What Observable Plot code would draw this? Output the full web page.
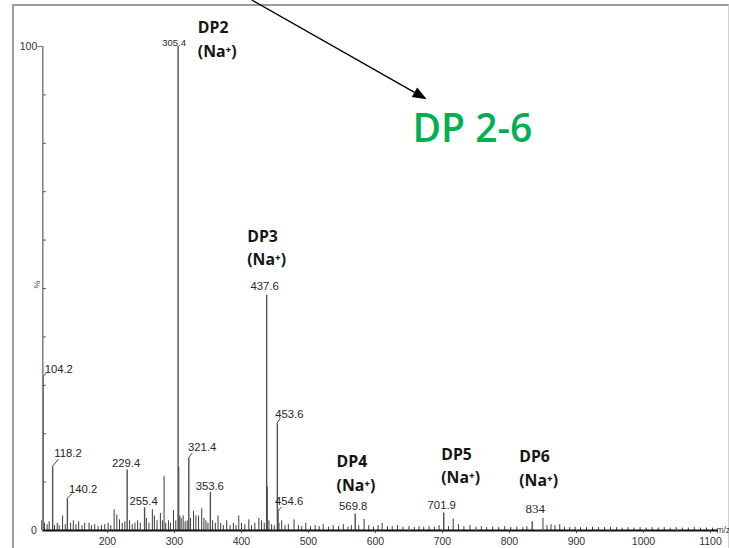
<!DOCTYPE html>
<html><head><meta charset="utf-8">
<script src="https://cdn.jsdelivr.net/npm/d3@7"></script>
<script src="https://cdn.jsdelivr.net/npm/@observablehq/plot@0.6"></script>
<style>
body{margin:0;background:#fff;}
#wrap{position:relative;width:729px;height:548px;overflow:hidden;background:#fff;}
#border{position:absolute;left:12px;top:4px;width:714px;height:560px;border-top:2px solid #9c9c9c;border-left:2px solid #9c9c9c;border-right:1px solid #d0d0d0;}
#wrap svg{position:absolute;left:0;top:0;}
</style></head><body><div id="wrap"><div id="border"></div></div>
<script>
// Labeled peaks (m/z, relative intensity %)
const labeledMz  = [104.2, 118.2, 140.2, 229.4, 255.4, 305.4, 321.4, 353.6, 437.6, 453.6, 454.6, 569.8, 701.9, 834];
const labeledInt = [31.6, 13.1, 6.5, 12.5, 4.7, 100, 14.8, 7.9, 48.6, 22, 3.8, 3.4, 3.6, 1.8];
const labeledText = ["104.2","118.2","140.2","229.4","255.4","305.4","321.4","353.6","437.6","453.6","454.6","569.8","701.9","834"];

// Unlabeled peaks [m/z, %]
const minorPeaks = [
 [102,2.0],[106,1.5],[110,1.2],[113,1.8],[121,1.0],[125,1.5],[128,1.0],[133,3.0],[137,1.2],[145,1.5],
 [149,2.0],[153,1.2],[157,1.8],[162,1.0],[166,1.5],[172.5,1.5],[176,1.0],[181,1.2],[186,0.8],[191,1.0],
 [196,1.2],[201,1.5],[205,1.0],[210,4.3],[214,3.2],[218,2.2],[222,1.5],[226,1.8],[233,2.0],[237,1.2],
 [241,1.5],[245,2.0],[249,1.5],[258,2.5],[262,1.5],[267,4.3],[270,3.0],[274,2.0],[279,3.5],[282,2.0],
 [284.5,11.2],[287,1.5],[291,2.0],[294,1.5],[298.5,4.1],[302,2.0],[306.5,13],[308,3.0],[310,2.5],[313,3.0],
 [316,1.8],[319,2.0],[324,2.5],[328.5,4.0],[332,3.0],[336,3.0],[340.7,4.5],[344,2.5],[347,2.0],[350,1.5],
 [357,2.0],[361,1.5],[365,3.0],[369,1.5],[373,1.0],[378,2.0],[383,1.0],[388,1.5],[392,1.0],[396,3.0],
 [400,1.5],[405,1.2],[411,2.2],[415,1.0],[420,1.5],[426,2.5],[430,2.0],[434,1.5],[438.6,9.0],[441,2.0],
 [445,1.2],[449,1.0],[456,1.5],[460,2.0],[465,1.0],[470,1.2],[478.5,2.2],[485,1.0],[490,0.8],[496,1.5],
 [503,0.8],[510,1.0],[516,0.8],[522,1.2],[530,0.7],[537,1.0],[545,0.8],[552,1.2],[559,0.7],[564,1.0],
 [575,1.0],[583,2.3],[590,1.0],[597,0.7],[604,1.0],[610,1.5],[618,0.8],[625,0.8],[633,1.0],[641,0.7],
 [650,0.8],[658,0.6],[665,0.8],[672,0.7],[680,0.8],[688,0.7],[695,1.0],[709,0.8],[716,2.4],[724,1.2],
 [732,0.8],[741,1.0],[750,0.7],[758,0.8],[766,0.6],[775,0.7],[784,0.6],[793,0.8],[802,0.6],[811,0.7],
 [820,0.6],[826,0.8],[850,2.5],[856,1.0],[862,1.2],[868,1.0],[875,1.2],[882,0.7],[890,0.6],[898,0.7],
 [906,0.6],[915,0.6],[924,0.7],[933,0.6],[942,0.6],[951,0.7],[960,0.6],[968,0.5],[977,0.6],[986,0.5],
 [995,0.6],[1004,0.5],[1013,0.6],[1022,0.5],[1031,0.6],[1040,0.5],[1049,0.6],[1058,0.5],[1067,0.5],[1076,0.6],
 [1085,0.5],[1094,0.5],[1103,0.5]
];

// Oligomer annotations
const dpNames  = ["DP2","DP3","DP4","DP5","DP6"];
const dpPeakMz = [305.4, 437.6, 569.8, 701.9, 834];

// Axis ticks
const xTicks = [200,300,400,500,600,700,800,900,1000,1100];
const xMinorTicks = [150,250,350,450,550,650,750,850,950,1050];
const yInnerTicks = [10,20,30,40,50,60,70,80,90];

// Arrow annotation (m/z, %)
const arrowStart = [416, 109.5];
const arrowEnd = [677.2, 89];
const bigLabel = "DP 2-6";

// ---------- layout (pixel offsets) ----------
const labelLayout = {
 "104.2": {dx: 15.5, dy: -5,   leader: [3.3, -4]},
 "118.2": {dx: 15.4, dy: -9.7, leader: [6.2, -7.4]},
 "140.2": {dx: 15.8, dy: -5.6, leader: [5.3, -4.8]},
 "229.4": {dx: -1,   dy: -3},
 "255.4": {dx: -1,   dy: -3},
 "305.4": {dx: -4,   dy: -1, size: 9.5},
 "321.4": {dx: 13.4, dy: -7.6, leader: [3.7, -5.3]},
 "353.6": {dx: -0.6, dy: -2.7},
 "437.6": {dx: -2,   dy: -5},
 "453.6": {dx: 12,   dy: -6,   leader: [3.1, -5]},
 "454.6": {dx: 11,   dy: -6.7, leader: [3.9, -4.7]},
 "569.8": {dx: -2,   dy: -4},
 "701.9": {dx: -2,   dy: -4},
 "834":   {dx: 3,    dy: -9, size: 13, serif: true}
};
const dpLayout = {
 "DP2": {dx: 19.8, dy: 10},
 "DP3": {dx: -19.4, dy: -30},
 "DP4": {dx: -18.7, dy: -23.5},
 "DP5": {dx: -2.5, dy: -29.6},
 "DP6": {dx: -13, dy: -36}
};

const labeledPeaks = labeledMz.map((mz, i) => ({mz, int: labeledInt[i], label: labeledText[i]}));
const minor = minorPeaks.map(([mz, int]) => ({mz, int}));
const dpData = dpNames.map((name, i) => {
  const p = labeledPeaks.find(d => d.mz === dpPeakMz[i]);
  return {name, mz: p.mz, int: p.int, text: name + "\n(Na\u207A)"};
});

const xDomain = [103.5, 1112];
const sans = "Liberation Sans, Arial, sans-serif";

const chart = Plot.plot({
  width: 729, height: 548,
  marginLeft: 42.3, marginRight: 11, marginTop: 46, marginBottom: 18,
  x: {domain: xDomain, label: null},
  y: {domain: [0, 100], label: null},
  style: {fontFamily: sans, background: "transparent", overflow: "visible"},
  marks: [
    Plot.ruleX(minor, {x: "mz", y1: 0, y2: "int", stroke: "#3c3c3c", strokeWidth: 1}),
    Plot.ruleX(labeledPeaks, {x: "mz", y1: 0, y2: "int", stroke: "#505050", strokeWidth: 1.4}),
    Plot.ruleY([0], {stroke: "#111", strokeWidth: 2.2}),
    Plot.ruleX([xDomain[0]], {y1: 0, y2: 100, stroke: "#858585", strokeWidth: 1.6}),
    Plot.axisX({ticks: xTicks, tickSize: 3, tickPadding: 4.5, tickFormat: "d", fontSize: 10.5, fill: "#333", stroke: "#444", label: null}),
    Plot.axisX({ticks: xMinorTicks, tickSize: 2, tickFormat: () => "", stroke: "#666", label: null}),
    Plot.axisY({ticks: yInnerTicks, tickSize: 3, dx: 3.5, tickFormat: () => "", stroke: "#555", label: null}),
    Plot.axisY({ticks: [100], tickSize: 5, tickPadding: 0.5, fontSize: 10.5, fill: "#333", stroke: "#777", label: null}),
    Plot.axisY({ticks: [0], tickSize: 0, tickPadding: 6, fontSize: 10.5, fill: "#333", label: null}),
    Plot.text(["%"], {frameAnchor: "left", y: () => 50, dx: -6, rotate: -90, fontSize: 9, fill: "#444"}),
    Plot.text(["m/z"], {x: () => xDomain[1], y: () => 0, dx: -2, textAnchor: "start", lineAnchor: "middle", fontSize: 8.5, fill: "#333"}),
    ...labeledPeaks.map(p => {
      const L = labelLayout[p.label];
      return Plot.text([p], {x: "mz", y: "int", text: "label", dx: L.dx, dy: L.dy, lineAnchor: "bottom",
        fontSize: L.size || 11.3, fill: "#262626",
        fontFamily: L.serif ? "Liberation Serif, Times New Roman, serif" : sans});
    }),
    ...dpData.map(d => {
      const L = dpLayout[d.name];
      return Plot.text([d], {x: "mz", y: "int", text: "text", dx: L.dx, dy: L.dy, textAnchor: "start", lineAnchor: "bottom",
        lineHeight: 1.48, fontSize: 15.8, fontWeight: "bold", fill: "#151515", fontFamily: "Open Sans, DejaVu Sans, sans-serif"});
    }),
    Plot.text([{mz: arrowEnd[0], int: arrowEnd[1], t: bigLabel}], {x: "mz", y: "int", text: "t", dx: -14.7, dy: 42.7,
      textAnchor: "start", lineAnchor: "bottom", fontSize: 39, fontWeight: 600, fill: "#00b050", fontFamily: "Open Sans, sans-serif"})
  ]
});

document.getElementById("wrap").appendChild(chart);

// leaders and arrow drawn through the plot's scales
const sx = chart.scale("x"), sy = chart.scale("y");
const svg = d3.select(chart);
const g = svg.append("g");
labeledPeaks.forEach(p => {
  const L = labelLayout[p.label];
  if (!L.leader) return;
  const x0 = sx.apply(p.mz), y0 = sy.apply(p.int);
  g.append("path").attr("d", `M${x0},${y0}L${x0 + L.leader[0]},${y0 + L.leader[1]}`)
    .attr("stroke", "#444").attr("stroke-width", 1).attr("fill", "none");
});
const ax1 = sx.apply(arrowStart[0]), ay1 = sy.apply(arrowStart[1]);
const ax2 = sx.apply(arrowEnd[0]), ay2 = sy.apply(arrowEnd[1]);
const ang = Math.atan2(ay2 - ay1, ax2 - ax1);
const hl = 14, hw = 5.5;
const bx = ax2 - hl * Math.cos(ang), by = ay2 - hl * Math.sin(ang);
g.append("line").attr("x1", ax1).attr("y1", ay1).attr("x2", bx).attr("y2", by)
  .attr("stroke", "#000").attr("stroke-width", 1.3);
g.append("path").attr("d", `M${ax2},${ay2}L${bx - hw * Math.sin(ang)},${by + hw * Math.cos(ang)}L${bx + hw * Math.sin(ang)},${by - hw * Math.cos(ang)}Z`)
  .attr("fill", "#000");
</script>
</body></html>
